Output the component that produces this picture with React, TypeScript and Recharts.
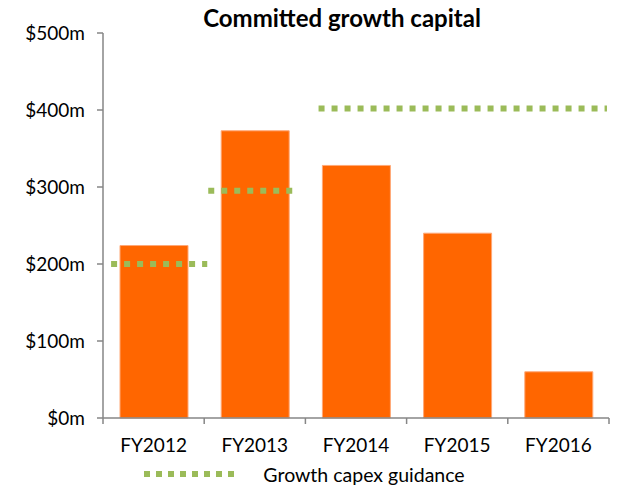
import React from 'react';
import { ComposedChart, Bar, Line, XAxis, YAxis, Legend } from 'recharts';

const years = ['FY2012', 'FY2013', 'FY2014', 'FY2015', 'FY2016'];
const committed = [224, 373, 328, 240, 60];

// guidance segments, positioned on a 0..5 category scale
const guideStart = [0.08, 1.04, 2.13];
const guideEnd = [1.03, 1.87, 4.98];
const guideValues = [200, 295, 402];

const yTicks = [0, 100, 200, 300, 400, 500];
const boundaryTicks = [0, 1, 2, 3, 4, 5];

const FONT = 'Lato, "Open Sans", sans-serif';
const AXIS = '#868686';
const ORANGE = '#FF6600';
const GREEN = '#9BBB59';

const barData = years.map((y, i) => ({ year: y, value: committed[i] }));

const guideData: { x: number; g: number | null }[] = [];
guideValues.forEach((v, i) => {
  guideData.push({ x: guideStart[i], g: v });
  guideData.push({ x: guideEnd[i], g: v });
  guideData.push({ x: (guideEnd[i] + (guideStart[i + 1] ?? 5)) / 2, g: null });
});

function GuideLegend() {
  return (
    <div style={{ display: 'flex', justifyContent: 'center', alignItems: 'center', height: 22, fontFamily: FONT, fontSize: 19.5, color: '#000' }}>
      <svg width={96} height={10} style={{ marginRight: 23 }}>
        <line x1={0} y1={5} x2={96} y2={5} stroke={GREEN} strokeWidth={6} strokeDasharray="6 6" />
      </svg>
      <span>Growth capex guidance</span>
    </div>
  );
}

export default function App() {
  return (
    <div style={{ position: 'absolute', left: 0, top: 0, width: 618, height: 490, background: '#fff' }}>
      <div style={{ position: 'absolute', left: 0, width: 618, top: 4, textAlign: 'center', paddingLeft: 66, boxSizing: 'border-box', fontFamily: FONT, fontWeight: 700, fontSize: 24, color: '#000', lineHeight: '28px' }}>
        Committed growth capital
      </div>
      <ComposedChart width={618} height={490} data={barData} margin={{ top: 33, right: 9, bottom: 5, left: 0 }}>
        <XAxis
          xAxisId="b"
          dataKey="year"
          height={44}
          axisLine={false}
          tickLine={false}
          tickSize={0}
          tickMargin={20}
          tick={{ fill: '#000', fontSize: 19, fontFamily: FONT }}
        />
        <XAxis
          xAxisId="a"
          type="number"
          dataKey="x"
          domain={[0, 5]}
          ticks={boundaryTicks}
          tickFormatter={() => ''}
          height={1}
          axisLine={{ stroke: AXIS, strokeWidth: 1.5 }}
          tickLine={{ stroke: AXIS, strokeWidth: 1.5 }}
          tickSize={6}
          allowDataOverflow
        />
        <YAxis
          domain={[0, 500]}
          ticks={yTicks}
          width={103}
          tickFormatter={(v) => `$${v}m`}
          axisLine={{ stroke: AXIS, strokeWidth: 1.5 }}
          tickLine={{ stroke: AXIS, strokeWidth: 1.5 }}
          tickSize={6}
          tickMargin={12}
          tick={{ fill: '#000', fontSize: 19, fontFamily: FONT }}
        />
        <Bar xAxisId="b" dataKey="value" fill={ORANGE} stroke="#FFA877" strokeWidth={1} barSize={68} isAnimationActive={false} legendType="none" />
        <Line
          xAxisId="a"
          data={guideData}
          dataKey="g"
          stroke={GREEN}
          strokeWidth={6}
          strokeDasharray="6 7"
          dot={false}
          activeDot={false}
          connectNulls={false}
          isAnimationActive={false}
        />
        <Legend verticalAlign="bottom" content={() => <GuideLegend />} />
      </ComposedChart>
    </div>
  );
}
